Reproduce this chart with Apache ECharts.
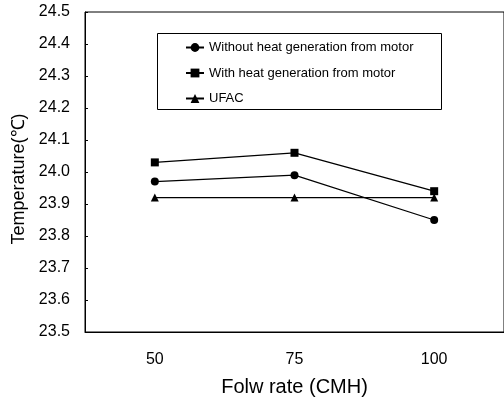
<!DOCTYPE html>
<html>
<head>
<meta charset="utf-8">
<script src="https://cdn.jsdelivr.net/npm/echarts@6/dist/echarts.min.js"></script>
<style>html,body{margin:0;padding:0;background:#fff}#c{width:504px;height:405px}</style>
</head>
<body>
<div id="c"></div>
<script>
var categories = ['50', '75', '100'];
var withoutHeat = [23.97, 23.99, 23.85];
var withHeat = [24.03, 24.06, 23.94];
var ufac = [23.92, 23.92, 23.92];
var seriesNames = ['Without heat generation from motor', 'With heat generation from motor', 'UFAC'];

var font = 'Liberation Sans, Arial, sans-serif';
var chart = echarts.init(document.getElementById('c'));
function mk(name, data, symbol, size) {
  return {
    name: name, type: 'line', data: data, symbol: symbol, symbolSize: size,
    lineStyle: {color: '#000', width: 1.3}, itemStyle: {color: '#000'},
    animation: false
  };
}
chart.setOption({
  backgroundColor: '#fff',
  animation: false,
  grid: {left: 85, top: 12, right: -6, bottom: 73, show: true, borderColor: '#000', borderWidth: 1},
  graphic: [{
    type: 'rect', shape: {x: 157.5, y: 33.5, width: 284, height: 76},
    style: {fill: '#fff', stroke: '#000', lineWidth: 1}, z: 10
  }],
  legend: {
    orient: 'vertical', left: 180, top: 36, itemWidth: 18, itemHeight: 11, itemGap: 12.5,
    z: 20,
    textStyle: {fontFamily: font, fontSize: 13, color: '#000'},
    data: seriesNames
  },
  xAxis: {
    type: 'category', data: categories, boundaryGap: true,
    axisLine: {lineStyle: {color: '#000', width: 1}},
    axisTick: {inside: true, length: 4, lineStyle: {color: '#000'}},
    axisLabel: {fontFamily: font, fontSize: 16, color: '#000', margin: 20},
    name: 'Folw rate (CMH)', nameLocation: 'middle', nameGap: 45,
    nameTextStyle: {fontFamily: font, fontSize: 20, color: '#000'}
  },
  yAxis: {
    type: 'value', min: 23.5, max: 24.5, interval: 0.1,
    axisLine: {show: true, lineStyle: {color: '#000', width: 1}},
    axisTick: {show: true, inside: true, length: 3, lineStyle: {color: '#000'}},
    splitLine: {show: false},
    axisLabel: {fontFamily: font, fontSize: 16, color: '#000', margin: 15,
      formatter: function (v) { return v.toFixed(1); }},
    name: 'Temperature(℃)', nameLocation: 'middle', nameGap: 53,
    nameTextStyle: {fontFamily: font, fontSize: 18, color: '#000', padding: [0, 14, 0, 0]}
  },
  series: [
    mk(seriesNames[0], withoutHeat, 'circle', 8),
    mk(seriesNames[1], withHeat, 'rect', 8),
    mk(seriesNames[2], ufac, 'triangle', 8)
  ]
});
</script>
</body>
</html>
